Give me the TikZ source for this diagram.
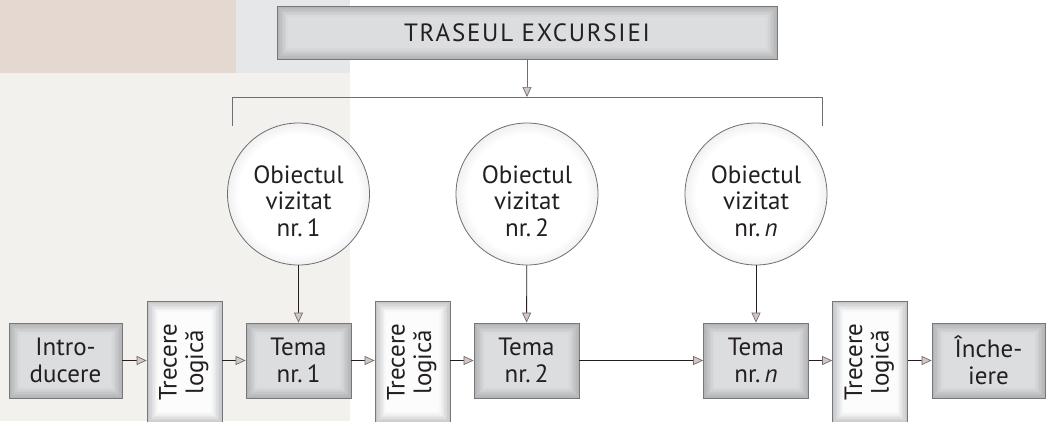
\documentclass[tikz,border=0pt]{standalone}
\usepackage{fontspec}
\setmainfont{PT Sans}
\newfontfamily\titlefont[LetterSpace=7]{PT Sans}
\usetikzlibrary{arrows.meta,positioning}

\definecolor{ink}{HTML}{231F20}
\definecolor{greyline}{HTML}{6D6E70}
\definecolor{boxline}{HTML}{77787B}
\definecolor{boxfill}{HTML}{DCDDDF}
\definecolor{boxedge}{HTML}{B3B4B6}
\definecolor{passfill}{HTML}{FCFCFC}
\definecolor{passedge}{HTML}{C6C7C9}
\definecolor{circedge}{HTML}{CBCCCE}
\definecolor{tipfill}{HTML}{D5C6BF}
\definecolor{bgtan}{HTML}{E5D8D1}
\definecolor{bgblue}{HTML}{E6E7E9}
\definecolor{bgpale}{HTML}{F2F1ED}

\pgfdeclareradialshading{ballshade}{\pgfpoint{0bp}{0bp}}{color(0bp)=(white); color(21bp)=(white); color(35bp)=(circedge); color(50bp)=(circedge)}

% inner shadow for the boxes
\newcommand\innerglow[2]{%
  \foreach \k in {0,...,6}{%
    \pgfmathtruncatemacro\glowmix{100-\k*15}%
    \draw[line width=1.6pt, #1!\glowmix!#2]
      ([xshift=\k*1.5pt+0.8pt, yshift=-\k*1.5pt-0.8pt]path picture bounding box.north west)
      rectangle ([xshift=-\k*1.5pt-0.8pt, yshift=\k*1.5pt+0.8pt]path picture bounding box.south east);
  }}

\tikzset{
  flowtip/.tip={Triangle[length=10pt,width=9pt,line width=0.7pt,color=greyline,fill=tipfill]},
}

\begin{document}
\begin{tikzpicture}[x=1pt,y=-1pt,
  every node/.style={font=\fontsize{25}{26.5}\selectfont, text=ink, align=center},
  box/.style={draw=boxline, fill=boxfill, line width=0.8pt, minimum height=75pt, inner sep=0pt,
    path picture={\innerglow{boxedge}{boxfill}}},
  passbox/.style={draw=boxline, fill=passfill, line width=0.8pt, minimum width=75pt, minimum height=122pt,
    inner sep=0pt, path picture={\innerglow{passedge}{passfill}}},
  objcircle/.style={circle, draw=greyline, line width=0.8pt, shading=ballshade, minimum size=142pt, inner sep=0pt},
  flow/.style={draw=ink, line width=0.9pt, -flowtip},
  greyflow/.style={draw=greyline, line width=0.9pt, -flowtip},
  bracket/.style={draw=greyline, line width=0.9pt},
]
\useasboundingbox (0,0) rectangle (1049,421);

% background
\fill[bgtan] (0,0) rectangle (236,73);
\fill[bgblue] (236,0) rectangle (350,73);
\fill[bgpale] (0,73) rectangle (350,421);

% title and bracket
\node[box, minimum width=500pt, minimum height=53pt] (title) at (527,32.5) {\titlefont TRASEUL EXCURSIEI};
\coordinate (brk) at (527,97);
\coordinate (brkL) at (232,126);
\coordinate (brkR) at (822,126);
\draw[bracket] (brkL) -- (brkL |- brk) -- (brkR |- brk) -- (brkR);
\draw[greyflow] (title) -- (brk);

% visited objects
\node[objcircle] (obj1) at (298.5,194) {};
\node[objcircle] (obj2) at (527,194) {};
\node[objcircle] (objn) at (756,194) {};
\node (obj1text) at ([yshift=-7pt]obj1.center) {Obiectul\\vizitat\\nr.\,1};
\node (obj2text) at ([yshift=-7pt]obj2.center) {Obiectul\\vizitat\\nr.\,2};
\node (objntext) at ([yshift=-7pt]objn.center) {Obiectul\\vizitat\\nr.\,\emph{n}};

% route
\node[box, minimum width=113pt] (intro) at (65.5,360.5) {Intro-\\ducere};
\node[passbox] (pass1) at (184.5,362) {\rotatebox{90}{\begin{tabular}{@{}c@{}}Trecere\\logică\end{tabular}}};
\node[box, minimum width=105pt] (tema1) at (298.5,360.5) {Tema\\nr.\,1};
\node[passbox] (pass2) at (412.5,362) {\rotatebox{90}{\begin{tabular}{@{}c@{}}Trecere\\logică\end{tabular}}};
\node[box, minimum width=105pt] (tema2) at (526.5,360.5) {Tema\\nr.\,2};
\node[box, minimum width=105pt] (teman) at (756,360.5) {Tema\\nr.\,\emph{n}};
\node[passbox] (pass3) at (870,362) {\rotatebox{90}{\begin{tabular}{@{}c@{}}Trecere\\logică\end{tabular}}};
\node[box, minimum width=113pt] (final) at (988.5,360.5) {Înche-\\iere};

\draw[flow] (obj1) -- (tema1);
\draw[flow] (obj2) -- (tema2);
\draw[flow] (objn) -- (teman);

\draw[flow] (intro) -- (pass1.west |- intro.east);
\draw[flow] (pass1.east |- tema1.west) -- (tema1);
\draw[flow] (tema1) -- (pass2.west |- tema1.east);
\draw[flow] (pass2.east |- tema2.west) -- (tema2);
\draw[flow] (tema2) -- (teman);
\draw[flow] (teman) -- (pass3.west |- teman.east);
\draw[flow] (pass3.east |- final.west) -- (final);
\end{tikzpicture}
\end{document}
